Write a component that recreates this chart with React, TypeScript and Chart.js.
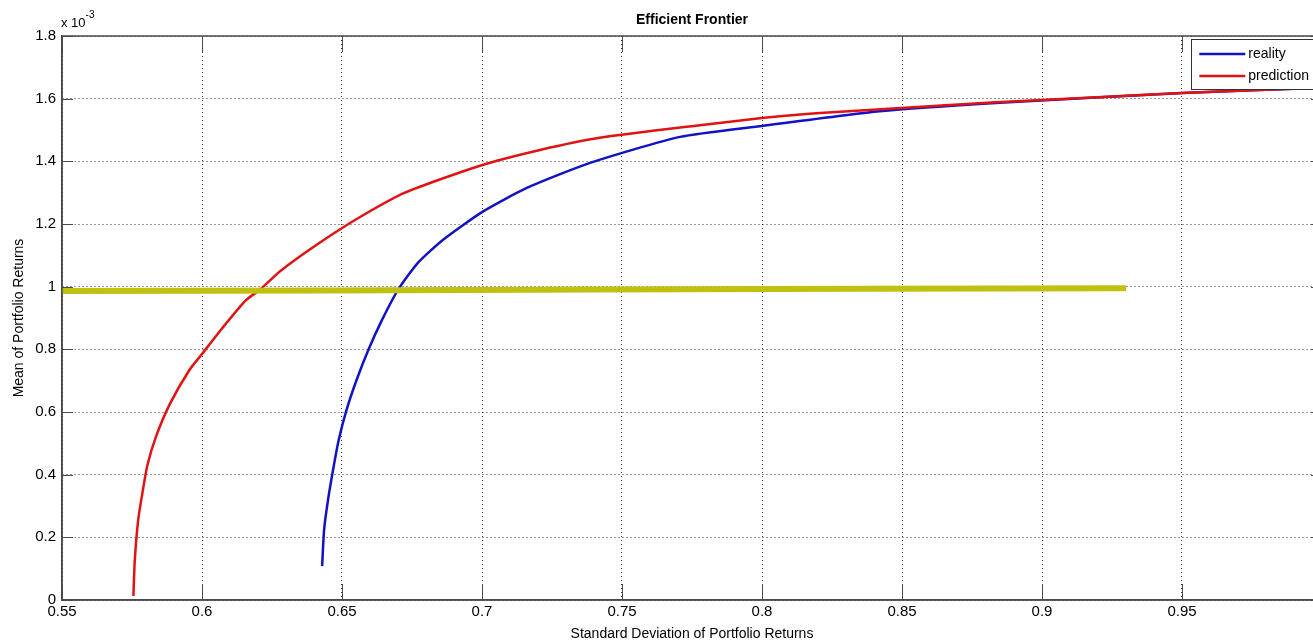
import React, { useEffect, useRef } from "react";
import { Chart, registerables } from "chart.js";

Chart.register(...registerables);

// Efficient frontier data (mean values in units of 1e-3)
const realityX = [0.6429, 0.6436, 0.645, 0.6468, 0.6488, 0.6516, 0.6552, 0.6594, 0.6643, 0.67, 0.6771, 0.686, 0.7, 0.716, 0.7386, 0.7707, 0.8, 0.842, 0.885, 0.95, 1.0];
const realityY = [0.108, 0.223, 0.319, 0.415, 0.51, 0.606, 0.702, 0.798, 0.894, 0.99, 1.076, 1.149, 1.238, 1.315, 1.395, 1.478, 1.513, 1.56, 1.587, 1.618, 1.635];

const predictionX = [0.5755, 0.576, 0.5772, 0.5785, 0.5805, 0.5835, 0.5885, 0.5955, 0.6, 0.607, 0.6157, 0.6207, 0.628, 0.642, 0.656, 0.6725, 0.699, 0.7207, 0.742, 0.7786, 0.8, 0.8207, 0.867, 0.9, 0.95, 1.0];
const predictionY = [0.013, 0.128, 0.255, 0.33, 0.43, 0.52, 0.625, 0.734, 0.785, 0.865, 0.957, 0.99, 1.05, 1.14, 1.22, 1.3, 1.385, 1.436, 1.475, 1.516, 1.538, 1.554, 1.58, 1.596, 1.618, 1.635];

const levelX = [0.55, 0.645, 0.74, 0.835, 0.93];
const levelY = [0.986, 0.988, 0.991, 0.993, 0.995];

const seriesLabels = ["reality", "prediction"];
const titleText = "Efficient Frontier";
const xLabel = "Standard Deviation of Portfolio Returns";
const yLabel = "Mean of Portfolio Returns";

const FONT = "'Liberation Sans', Arial, sans-serif";
const BLUE = "#1212c4";
const RED = "#e01212";
const YELLOW = "#c0c010";
const FRAME = "#4a4a4a";

const toPts = (xs: number[], ys: number[]) => xs.map((x, i) => ({ x, y: ys[i] }));
const fmt = (v: number) => String(Number(Number(v).toFixed(2)));

const decorPlugin = {
  id: "decor",
  afterDraw(chart: any) {
    const ctx = chart.ctx;
    const { left, right, top, bottom } = chart.chartArea;
    const xs = chart.scales.x;
    const ys = chart.scales.y;
    ctx.save();
    ctx.setLineDash([]);
    // inner tick marks
    ctx.strokeStyle = FRAME;
    ctx.lineWidth = 1;
    ctx.beginPath();
    xs.ticks.forEach((t: any) => {
      const px = Math.round(xs.getPixelForValue(t.value)) + 0.5;
      ctx.moveTo(px, bottom);
      ctx.lineTo(px, bottom - 16);
      ctx.moveTo(px, top);
      ctx.lineTo(px, top + 16);
    });
    ys.ticks.forEach((t: any) => {
      const py = Math.round(ys.getPixelForValue(t.value)) + 0.5;
      ctx.moveTo(left, py);
      ctx.lineTo(left + 11, py);
      ctx.moveTo(right, py);
      ctx.lineTo(right - 11, py);
    });
    ctx.stroke();
    // frame
    ctx.lineWidth = 1.5;
    ctx.strokeRect(left, top, right - left, bottom - top);

    // legend box
    ctx.font = `14px ${FONT}`;
    const textW = Math.max(...seriesLabels.map((s) => ctx.measureText(s).width));
    const boxRight = right - 5;
    const boxW = 8 + 46 + 3 + textW + 8;
    const boxLeft = boxRight - boxW;
    const boxTop = top + 3;
    const boxH = 50;
    ctx.fillStyle = "#ffffff";
    ctx.fillRect(boxLeft, boxTop, boxW, boxH);
    ctx.lineWidth = 1;
    ctx.strokeStyle = "#333333";
    ctx.strokeRect(Math.round(boxLeft) + 0.5, boxTop + 0.5, boxW, boxH);
    const colors = [BLUE, RED];
    seriesLabels.forEach((s, i) => {
      const cy = boxTop + 15 + i * 22;
      ctx.strokeStyle = colors[i];
      ctx.lineWidth = 2.5;
      ctx.beginPath();
      ctx.moveTo(boxLeft + 8, cy);
      ctx.lineTo(boxLeft + 54, cy);
      ctx.stroke();
      ctx.fillStyle = "#000000";
      ctx.textBaseline = "middle";
      ctx.textAlign = "left";
      ctx.fillText(s, boxLeft + 57, cy);
    });

    // title
    ctx.fillStyle = "#000000";
    ctx.font = `bold 14px ${FONT}`;
    ctx.textAlign = "center";
    ctx.textBaseline = "alphabetic";
    ctx.fillText(titleText, (left + right) / 2, 24);

    // exponent label
    ctx.textAlign = "left";
    ctx.font = `13px ${FONT}`;
    ctx.fillText("x 10", left - 1, 27);
    const w = ctx.measureText("x 10").width;
    ctx.font = `10px ${FONT}`;
    ctx.fillText("-3", left - 1 + w, 18);
    ctx.restore();
  },
};

export default function App() {
  const ref = useRef<HTMLCanvasElement | null>(null);
  useEffect(() => {
    document.body.style.margin = "0";
    if (!ref.current) return;
    const chart = new Chart(ref.current, {
      type: "scatter",
      data: {
        datasets: [
          {
            label: "level",
            data: toPts(levelX, levelY),
            showLine: true,
            borderColor: YELLOW,
            backgroundColor: YELLOW,
            borderWidth: 6,
            pointRadius: 0,
            order: 0,
          },
          {
            label: seriesLabels[1],
            data: toPts(predictionX, predictionY),
            showLine: true,
            borderColor: RED,
            backgroundColor: RED,
            borderWidth: 2.5,
            pointRadius: 0,
            tension: 0.2,
            order: 1,
          },
          {
            label: seriesLabels[0],
            data: toPts(realityX, realityY),
            showLine: true,
            borderColor: BLUE,
            backgroundColor: BLUE,
            borderWidth: 2.5,
            pointRadius: 0,
            tension: 0.2,
            order: 2,
          },
        ],
      },
      options: {
        responsive: false,
        animation: false,
        devicePixelRatio: 1,
        layout: { padding: { left: 0, right: 8, top: 36, bottom: 0 } },
        plugins: {
          legend: { display: false },
          title: { display: false },
          tooltip: { enabled: false },
        },
        scales: {
          x: {
            type: "linear",
            min: 0.55,
            max: 1.0,
            afterFit: (s: any) => {
              s.height = 41;
            },
            ticks: {
              stepSize: 0.05,
              padding: 3,
              color: "#000",
              font: { family: FONT, size: 15 },
              callback: (v: any) => fmt(v),
              maxRotation: 0,
              autoSkip: false,
            },
            grid: { color: "rgba(0,0,0,0.8)", lineWidth: 1, drawTicks: false },
            border: { display: true, color: FRAME, width: 1.5, dash: [1, 3] },
            title: {
              display: true,
              text: xLabel,
              color: "#000",
              font: { family: FONT, size: 14, lineHeight: 1 },
              padding: { top: 0, bottom: 0 },
            },
          },
          y: {
            type: "linear",
            min: 0,
            max: 1.8,
            afterFit: (s: any) => {
              s.width = 62;
            },
            ticks: {
              stepSize: 0.2,
              padding: 6,
              color: "#000",
              font: { family: FONT, size: 15 },
              callback: (v: any) => fmt(v),
              autoSkip: false,
            },
            grid: { color: "rgba(0,0,0,0.8)", lineWidth: 1, drawTicks: false },
            border: { display: true, color: FRAME, width: 1.5, dash: [1, 3] },
            title: {
              display: true,
              text: yLabel,
              color: "#000",
              font: { family: FONT, size: 14, lineHeight: 1.2 },
              padding: { top: 11, bottom: 0 },
            },
          },
        },
      },
      plugins: [decorPlugin],
    } as any);
    return () => chart.destroy();
  }, []);
  return (
    <div style={{ width: 1313, height: 641, overflow: "hidden", position: "relative", background: "#fff" }}>
      <canvas ref={ref} width={1330} height={641} style={{ display: "block", width: 1330, height: 641 }} />
    </div>
  );
}
